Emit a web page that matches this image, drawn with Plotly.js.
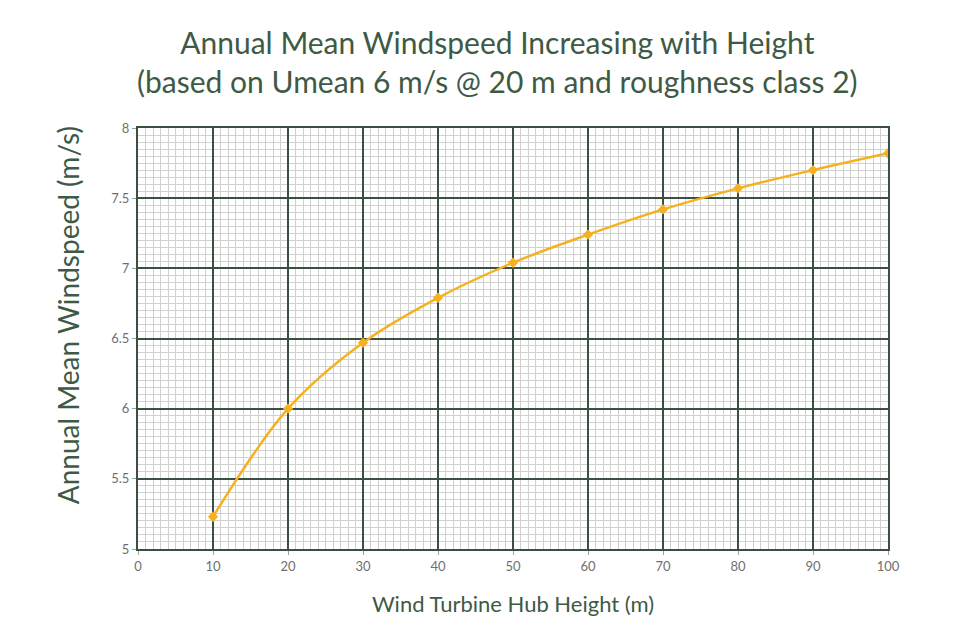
<!DOCTYPE html>
<html>
<head>
<meta charset="utf-8">
<script src="https://cdn.plot.ly/plotly-3.0.1.min.js"></script>
<style>
  body { margin: 0; background: #fff; }
  #chart { width: 979px; height: 641px; }
</style>
</head>
<body>
<div id="chart"></div>
<script>
// hub height (m) and annual mean windspeed (m/s)
const hubHeights = [10, 20, 30, 40, 50, 60, 70, 80, 90, 100];
const meanWindspeed = [5.23, 6.0, 6.47, 6.79, 7.04, 7.24, 7.42, 7.57, 7.70, 7.82];

const green = '#3e5a45';
const font = 'Lato, "Noto Sans", sans-serif';

const trace = {
    x: hubHeights,
    y: meanWindspeed,
    type: 'scatter',
    mode: 'lines+markers',
    line: { shape: 'spline', color: '#f5b120', width: 2.5 },
    marker: { symbol: 'diamond', size: 8, color: '#f5b120' },
    hoverinfo: 'x+y'
};

const layout = {
    width: 979,
    height: 641,
    paper_bgcolor: '#fff',
    plot_bgcolor: '#fff',
    margin: { l: 138, r: 91, t: 128, b: 92 },
    showlegend: false,
    font: { family: font, color: green },
    title: {
        text: 'Annual Mean Windspeed Increasing with Height<br>(based on Umean 6 m/s @ 20 m and roughness class 2)',
        font: { size: 30, color: green, family: font },
        x: 0.508,
        xanchor: 'center',
        y: 0.915,
        yanchor: 'top'
    },
    xaxis: {
        range: [0, 100],
        dtick: 10,
        tick0: 0,
        showgrid: true,
        gridcolor: '#3b5042',
        gridwidth: 2,
        minor: { dtick: 1, showgrid: true, gridcolor: '#cfd2cf', gridwidth: 1 },
        zeroline: false,
        showline: true,
        linecolor: '#3b5042',
        linewidth: 2,
        mirror: true,
        ticks: 'outside',
        ticklen: 4,
        tickcolor: '#9aa09a',
        tickfont: { size: 13, color: '#6f6f6f', family: font },
        title: { text: 'Wind Turbine Hub Height (m)', font: { size: 22, color: green, family: font }, standoff: 24 }
    },
    yaxis: {
        range: [5, 8],
        dtick: 0.5,
        tick0: 5,
        showgrid: true,
        gridcolor: '#3b5042',
        gridwidth: 2,
        minor: { dtick: 0.05, showgrid: true, gridcolor: '#cfd2cf', gridwidth: 1 },
        zeroline: false,
        showline: true,
        linecolor: '#3b5042',
        linewidth: 2,
        mirror: true,
        ticks: 'outside',
        ticklen: 4,
        tickcolor: '#9aa09a',
        tickfont: { size: 13, color: '#6f6f6f', family: font }
    },
    // y title as an annotation: it sits above the plot's vertical centre in the original
    annotations: [{
        text: 'Annual Mean Windspeed (m/s)',
        textangle: -90,
        xref: 'paper',
        yref: 'paper',
        x: -0.093,
        y: 0.556,
        xanchor: 'center',
        yanchor: 'middle',
        showarrow: false,
        font: { size: 28, color: green, family: font }
    }]
};

Plotly.newPlot('chart', [trace], layout, { displayModeBar: false, staticPlot: true });
</script>
</body>
</html>
